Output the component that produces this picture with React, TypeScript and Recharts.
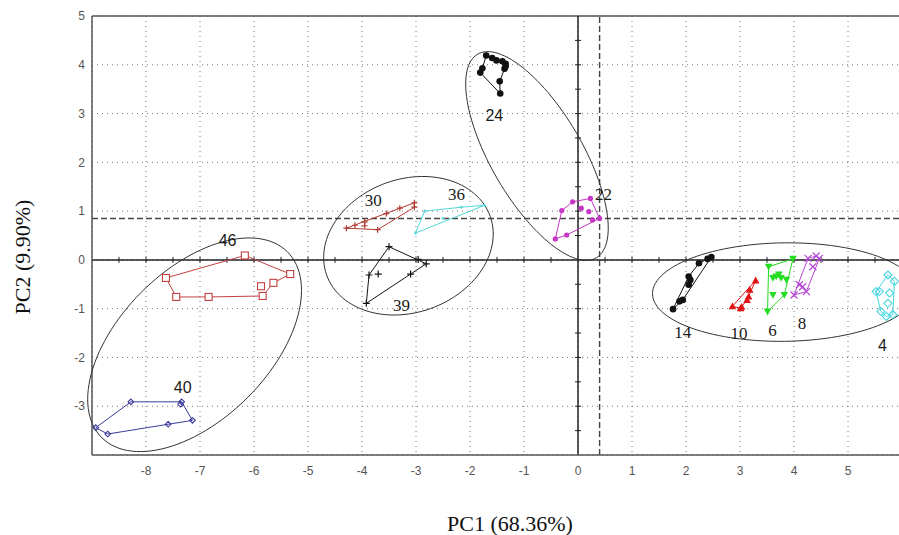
import React from 'react'
import { ScatterChart, Scatter, XAxis, YAxis, CartesianGrid, ReferenceLine } from 'recharts'

// axis ticks (integer labels) and the small half-unit marks on the origin lines
const xTicks = [-8, -7, -6, -5, -4, -3, -2, -1, 0, 1, 2, 3, 4, 5]
const yTicks = [-3, -2, -1, 0, 1, 2, 3, 4, 5]
const xMinorTicks = [-8.5, -8, -7.5, -7, -6.5, -6, -5.5, -5, -4.5, -4, -3.5, -3, -2.5, -2, -1.5, -1, -0.5, 0.5, 1, 1.5, 2, 2.5, 3, 3.5, 4, 4.5, 5, 5.5]
const yMinorTicks = [-3.5, -3, -2.5, -2, -1.5, -1, -0.5, 0.5, 1, 1.5, 2, 2.5, 3, 3.5, 4, 4.5]

const cutX = 0.4
const cutY = 0.85

// scores per group: hull vertices (in drawing order) + points inside the hull
const hull46 = [[-7.63, -0.37], [-6.17, 0.09], [-5.33, -0.29], [-5.64, -0.47], [-5.84, -0.74], [-6.84, -0.76], [-7.44, -0.76]]
const inner46 = [[-5.87, -0.54]]
const hull40 = [[-8.93, -3.44], [-8.28, -2.91], [-7.34, -2.91], [-7.14, -3.29], [-7.59, -3.37], [-8.71, -3.57]]
const inner40 = [[-7.36, -2.96]]
const hull30 = [[-4.29, 0.65], [-3.03, 1.17], [-3.03, 1.08], [-3.71, 0.62]]
const inner30 = [[-4.13, 0.71], [-3.95, 0.78], [-3.95, 0.7], [-3.55, 0.95], [-3.3, 1.06]]
const hull36 = [[-3.01, 0.55], [-2.84, 1.0], [-2.16, 1.08], [-1.73, 1.12]]
const inner36 = [[-2.5, 0.85]]
const hull39 = [[-3.5, 0.27], [-2.81, -0.08], [-3.1, -0.29], [-3.92, -0.89], [-3.87, -0.31]]
const inner39 = [[-2.96, 0.01], [-3.7, -0.29]]
const hull24 = [[-1.7, 4.19], [-1.59, 4.14], [-1.51, 4.09], [-1.4, 4.07], [-1.34, 4.02], [-1.36, 3.92], [-1.45, 3.66], [-1.44, 3.41], [-1.81, 3.84], [-1.77, 3.93]]
const inner24 = [[-1.34, 3.97]]
const hull22 = [[-0.42, 0.43], [-0.3, 1.01], [-0.1, 1.19], [0.23, 1.26], [0.4, 0.85], [-0.21, 0.51]]
const inner22 = [[0.06, 1.06], [0.2, 0.99], [0.27, 0.82]]
const hull14 = [[1.76, -1.01], [2.05, -0.34], [2.24, -0.07], [2.4, 0.02], [2.47, 0.06], [1.94, -0.82]]
const inner14 = [[1.88, -0.85], [2.05, -0.51], [2.08, -0.41]]
const hull10 = [[2.86, -0.95], [3.29, -0.42], [3.16, -0.75], [3.13, -0.82], [3.01, -0.99]]
const inner10 = [[3.18, -0.61], [3.03, -0.96]]
const hull6 = [[3.53, -0.14], [3.98, 0.02], [3.82, -0.72], [3.51, -1.06]]
const inner6 = [[3.67, -0.34], [3.61, -0.37], [3.76, -0.37], [3.86, -0.41], [3.61, -0.72], [3.72, -0.3]]
const hull8 = [[4.0, -0.72], [4.26, 0.03], [4.41, 0.08], [4.47, 0.03], [4.23, -0.65]]
const inner8 = [[4.35, -0.14], [4.1, -0.51], [4.16, -0.55]]
const hull4 = [[5.74, -0.31], [5.86, -0.44], [5.83, -1.12], [5.71, -1.16], [5.61, -1.06], [5.52, -0.65]]
const inner4 = [[5.77, -0.68], [5.58, -0.65], [5.74, -0.89]]

// group labels
const labelNames = ['46', '40', '30', '36', '39', '24', '22', '14', '10', '6', '8', '4']
const labelX = [-6.49, -7.32, -3.79, -2.25, -3.27, -1.55, 0.47, 1.94, 2.98, 3.6, 4.15, 5.64]
const labelY = [0.39, -2.62, 1.22, 1.34, -0.93, 2.97, 1.36, -1.47, -1.5, -1.43, -1.29, -1.76]
const sansLabels = ['46', '40', '24', '4']

// cluster ellipses: centre, half extents and correlation
const ellipseCx = [-7.1, -3.14, -0.76, 3.82]
const ellipseCy = [-1.74, 0.29, 2.13, -0.66]
const ellipseHalfW = [1.98, 1.57, 1.32, 2.44]
const ellipseHalfH = [2.19, 1.42, 2.14, 1.01]
const ellipseRho = [0.51, 0.17, -0.69, 0.03]

type Kind = 'square' | 'diamond' | 'plus' | 'cross' | 'dot' | 'tri' | 'triDown'

const groups = [
  { id: '46', hull: hull46, inner: inner46, color: '#c44040', kind: 'square' as Kind, s: 3.5 },
  { id: '40', hull: hull40, inner: inner40, color: '#3a3a9c', kind: 'diamond' as Kind, s: 2.8 },
  { id: '30', hull: hull30, inner: inner30, color: '#b23a32', kind: 'plus' as Kind, s: 3 },
  { id: '36', hull: hull36, inner: inner36, color: '#52d8d8', kind: 'plus' as Kind, s: 1.5 },
  { id: '39', hull: hull39, inner: inner39, color: '#151515', kind: 'plus' as Kind, s: 3.5 },
  { id: '24', hull: hull24, inner: inner24, color: '#111111', kind: 'dot' as Kind, s: 3.3 },
  { id: '22', hull: hull22, inner: inner22, color: '#c637c6', kind: 'dot' as Kind, s: 2.6 },
  { id: '14', hull: hull14, inner: inner14, color: '#111111', kind: 'dot' as Kind, s: 3.3 },
  { id: '10', hull: hull10, inner: inner10, color: '#e01414', kind: 'tri' as Kind, s: 3.8 },
  { id: '6', hull: hull6, inner: inner6, color: '#22dd22', kind: 'triDown' as Kind, s: 3.8 },
  { id: '8', hull: hull8, inner: inner8, color: '#b448d6', kind: 'cross' as Kind, s: 3.5 },
  { id: '4', hull: hull4, inner: inner4, color: '#45d6e0', kind: 'diamond' as Kind, s: 4 },
]

const toPts = (arr: number[][]) => arr.map(([x, y]) => ({ x, y }))
const closed = (arr: number[][]) => [...toPts(arr), { x: arr[0][0], y: arr[0][1] }]

const ellipseOutline = (i: number) => {
  const pts: { x: number; y: number }[] = []
  const k = Math.sqrt(1 - ellipseRho[i] * ellipseRho[i])
  for (let j = 0; j <= 120; j++) {
    const t = (j / 120) * Math.PI * 2
    pts.push({
      x: ellipseCx[i] + ellipseHalfW[i] * Math.cos(t),
      y: ellipseCy[i] + ellipseHalfH[i] * (ellipseRho[i] * Math.cos(t) + k * Math.sin(t)),
    })
  }
  return pts
}

const nothing = () => <g />

const marker = (kind: Kind, color: string, s: number) => (props: any) => {
  const { cx, cy } = props
  if (cx == null || cy == null) return <g />
  switch (kind) {
    case 'square':
      return <rect x={cx - s} y={cy - s} width={2 * s} height={2 * s} fill="#fff" stroke={color} strokeWidth={1.1} />
    case 'diamond':
      return <path d={`M${cx},${cy - s}L${cx + s},${cy}L${cx},${cy + s}L${cx - s},${cy}Z`} fill="none" stroke={color} strokeWidth={1.1} />
    case 'plus':
      return <path d={`M${cx - s},${cy}H${cx + s}M${cx},${cy - s}V${cy + s}`} stroke={color} strokeWidth={1.2} />
    case 'cross':
      return <path d={`M${cx - s},${cy - s}L${cx + s},${cy + s}M${cx - s},${cy + s}L${cx + s},${cy - s}`} stroke={color} strokeWidth={1.2} />
    case 'dot':
      return <circle cx={cx} cy={cy} r={s} fill={color} />
    case 'tri':
      return <path d={`M${cx},${cy - s}L${cx + s},${cy + s * 0.8}L${cx - s},${cy + s * 0.8}Z`} fill={color} />
    case 'triDown':
      return <path d={`M${cx},${cy + s}L${cx + s},${cy - s * 0.8}L${cx - s},${cy - s * 0.8}Z`} fill={color} />
  }
  return <g />
}

const VTick = (props: any) => <path d={`M${props.cx},${props.cy - 3}V${props.cy + 3}`} stroke="#222" strokeWidth={1} />
const HTick = (props: any) => <path d={`M${props.cx - 3},${props.cy}H${props.cx + 3}`} stroke="#222" strokeWidth={1} />

const GroupLabel = (props: any) => {
  const { cx, cy, payload } = props
  const sans = sansLabels.includes(payload.name)
  return (
    <text
      x={cx}
      y={cy}
      dy="0.35em"
      textAnchor="middle"
      fontSize={sans ? 16 : 17}
      fontFamily={sans ? "'Liberation Sans', Arial, sans-serif" : "'Liberation Serif', 'Times New Roman', serif"}
      fill="#1a1a1a"
    >
      {payload.name}
    </text>
  )
}

const labelData = labelNames.map((name, i) => ({ x: labelX[i], y: labelY[i], name }))

const tickStyle = { fill: '#555', fontSize: 12, fontFamily: "'Liberation Sans', Arial, sans-serif" }

export default function App() {
  return (
    <div style={{ position: 'absolute', left: 0, top: 0, width: 899, height: 535, overflow: 'hidden', background: '#fff' }}>
      <style>{'.no-clip{clip-path:none !important}'}</style>
      <ScatterChart width={902} height={535} margin={{ top: 16, right: 0, bottom: 30, left: 32 }}>
        <CartesianGrid stroke="#777" strokeDasharray="1 4" />
        <XAxis
          type="number"
          dataKey="x"
          domain={[-9, 6]}
          allowDataOverflow
          ticks={xTicks}
          interval={0}
          tickLine={false}
          tickMargin={5}
          axisLine={{ stroke: '#555', strokeWidth: 1.5 }}
          tick={tickStyle}
          height={50}
        />
        <YAxis
          type="number"
          dataKey="y"
          domain={[-4, 5]}
          allowDataOverflow
          ticks={yTicks}
          interval={0}
          tickLine={false}
          tickMargin={1}
          axisLine={{ stroke: '#555', strokeWidth: 1.5 }}
          tick={tickStyle}
          width={60}
        />
        <ReferenceLine y={5} stroke="#555" strokeWidth={1.5} />
        <ReferenceLine x={6} stroke="#555" strokeWidth={1.5} />
        <ReferenceLine y={cutY} stroke="#444" strokeWidth={1.4} strokeDasharray="6 3" />
        <ReferenceLine x={cutX} stroke="#444" strokeWidth={1.4} strokeDasharray="6 3" />
        <ReferenceLine x={0} stroke="#222" strokeWidth={1.5} />
        <ReferenceLine y={0} stroke="#222" strokeWidth={1.5} />
        <Scatter data={xMinorTicks.map((x) => ({ x, y: 0 }))} shape={VTick} isAnimationActive={false} />
        <Scatter data={yMinorTicks.map((y) => ({ x: 0, y }))} shape={HTick} isAnimationActive={false} />

        {ellipseCx.map((_, i) => (
          <Scatter
            key={`ell-${i}`}
            className="no-clip"
            data={ellipseOutline(i)}
            line={{ stroke: '#333', strokeWidth: 1 }}
            lineType="joint"
            shape={nothing}
            isAnimationActive={false}
          />
        ))}

        {groups.map((g) => (
          <Scatter
            key={`hull-${g.id}`}
            data={closed(g.hull)}
            line={{ stroke: g.color, strokeWidth: 1 }}
            lineType="joint"
            shape={nothing}
            isAnimationActive={false}
          />
        ))}

        {groups.map((g) => (
          <Scatter
            key={`pts-${g.id}`}
            data={toPts([...g.hull, ...g.inner])}
            shape={marker(g.kind, g.color, g.s)}
            isAnimationActive={false}
          />
        ))}

        <Scatter data={labelData} shape={GroupLabel} isAnimationActive={false} />
      </ScatterChart>

      <svg width={899} height={535} style={{ position: 'absolute', left: 0, top: 0, pointerEvents: 'none' }}>
        <text x={510} y={531} textAnchor="middle" fontSize={22} fontFamily="'Liberation Serif', 'Times New Roman', serif" fill="#111">
          PC1 (68.36%)
        </text>
        <text
          x={30}
          y={257}
          textAnchor="middle"
          fontSize={22}
          fontFamily="'Liberation Serif', 'Times New Roman', serif"
          fill="#111"
          transform="rotate(-90, 30, 257)"
        >
          PC2 (9.90%)
        </text>
      </svg>
    </div>
  )
}
